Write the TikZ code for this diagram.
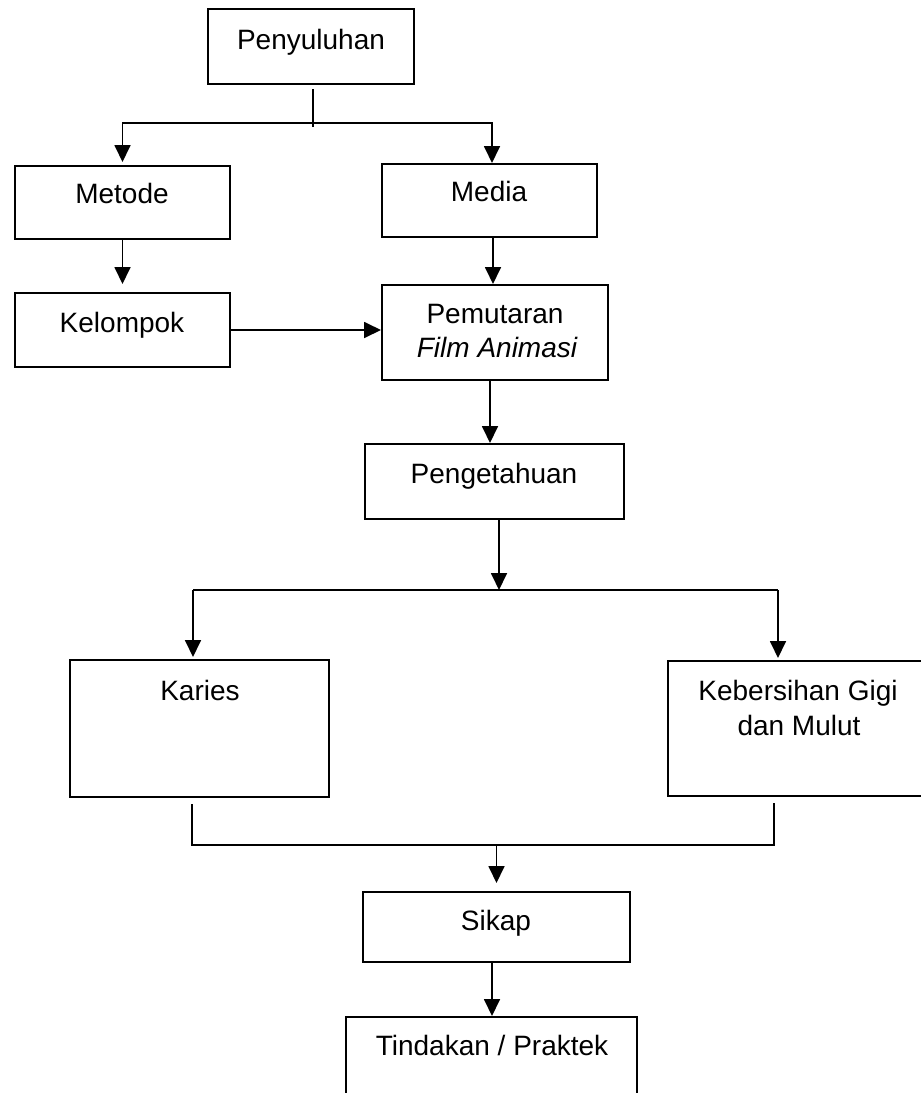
\documentclass[tikz,border=0pt]{standalone}
\usepackage{fontspec}
\setmainfont{Liberation Sans}
\usetikzlibrary{arrows.meta}
\tikzset{
  box/.style={draw, line width=2pt, inner sep=0pt},
  txt/.style={anchor=base, inner sep=0pt, font=\fontsize{28pt}{34pt}\selectfont},
  arr/.style={line width=1.8pt, -{Triangle[width=16pt,length=17pt]}},
  conn/.style={line width=1.8pt}
}
\begin{document}
\begin{tikzpicture}[x=1pt,y=1pt,yscale=-1,xscale=1]
\useasboundingbox (0,0) rectangle (921,1093);
\clip (0,0) rectangle (921,1093);
%Shapes: Rectangles
\node [box, minimum width=206pt, minimum height=75pt] (pen) at (311,46.5) {};
\node [box, minimum width=215pt, minimum height=73pt] (met) at (122.5,202.5) {};
\node [box, minimum width=215pt, minimum height=73pt] (med) at (489.5,200.5) {};
\node [box, minimum width=215pt, minimum height=74pt] (kel) at (122.5,330) {};
\node [box, minimum width=226pt, minimum height=95pt] (pem) at (495,332.5) {};
\node [box, minimum width=259pt, minimum height=75pt] (peng) at (494.5,481.5) {};
\node [box, minimum width=259pt, minimum height=137pt] (kar) at (199.5,728.5) {};
\node [box, minimum width=262pt, minimum height=135pt] (keb) at (799,728.5) {};
\node [box, minimum width=267pt, minimum height=70pt] (sik) at (496.5,927) {};
\node [box, minimum width=291pt, minimum height=93pt] (tin) at (491.5,1063.5) {};

%Junction points
\coordinate (jA) at (313,123);
\coordinate (jBl) at (193,590);
\coordinate (jBr) at (778,590);
\coordinate (jCl) at (192,845);
\coordinate (jCr) at (774,845);

%Straight Lines
\draw [conn] ([yshift=4pt]pen.south -| jA) -- ([yshift=4pt]jA);
\draw [arr, shorten >=3pt] (jA) -| (met.north);
\draw [arr] (jA) -| ([xshift=2.5pt]med.north);
\draw [arr, shorten >=8pt] (met.south) -- (kel.north);
\draw [arr] ([xshift=3.5pt]med.south) -- ([xshift=3.5pt]med.south |- pem.north);
\draw [arr] (kel.east) -- (kel.east -| pem.west);
\draw [arr] ([xshift=-5pt]pem.south) -- ([xshift=-5pt]pem.south |- peng.north);
\draw [arr] ([xshift=4.5pt]peng.south) -- ([xshift=4.5pt]peng.south |- jBl);
\draw [conn] (jBl) -- (jBr);
\draw [arr, shorten >=2pt] (jBl) -- (jBl |- kar.north);
\draw [arr, shorten >=2pt] (jBr) -- (jBr |- keb.north);
\draw [conn] ([yshift=6pt]kar.south -| jCl) -- (jCl) -- (jCr) -- ([yshift=6pt]keb.south -| jCr);
\draw [arr, shorten >=8pt] (sik.north |- jCl) -- (sik.north);
\draw [arr] ([xshift=-4.5pt]sik.south) -- ([xshift=-4.5pt]sik.south |- tin.north);

% Text Nodes
\node [txt] (tpen) at (311,49) {Penyuluhan};
\node [txt] (tmet) at (122,203) {Metode};
\node [txt] (tmed) at (489,201) {Media};
\node [txt] (tkel) at (122,332) {Kelompok};
\node [txt] (tpem) at (495,323) {Pemutaran};
\node [txt] (tfilm) at (497,357) {\itshape Film Animasi};
\node [txt] (tpeng) at (494,483) {Pengetahuan};
\node [txt] (tkar) at (200,700) {Karies};
\node [txt] (tkeb) at (798,700) {Kebersihan Gigi};
\node [txt] (tdan) at (799,735) {dan Mulut};
\node [txt] (tsik) at (496,930) {Sikap};
\node [txt] (ttin) at (492,1055) {Tindakan / Praktek};
\end{tikzpicture}
\end{document}
